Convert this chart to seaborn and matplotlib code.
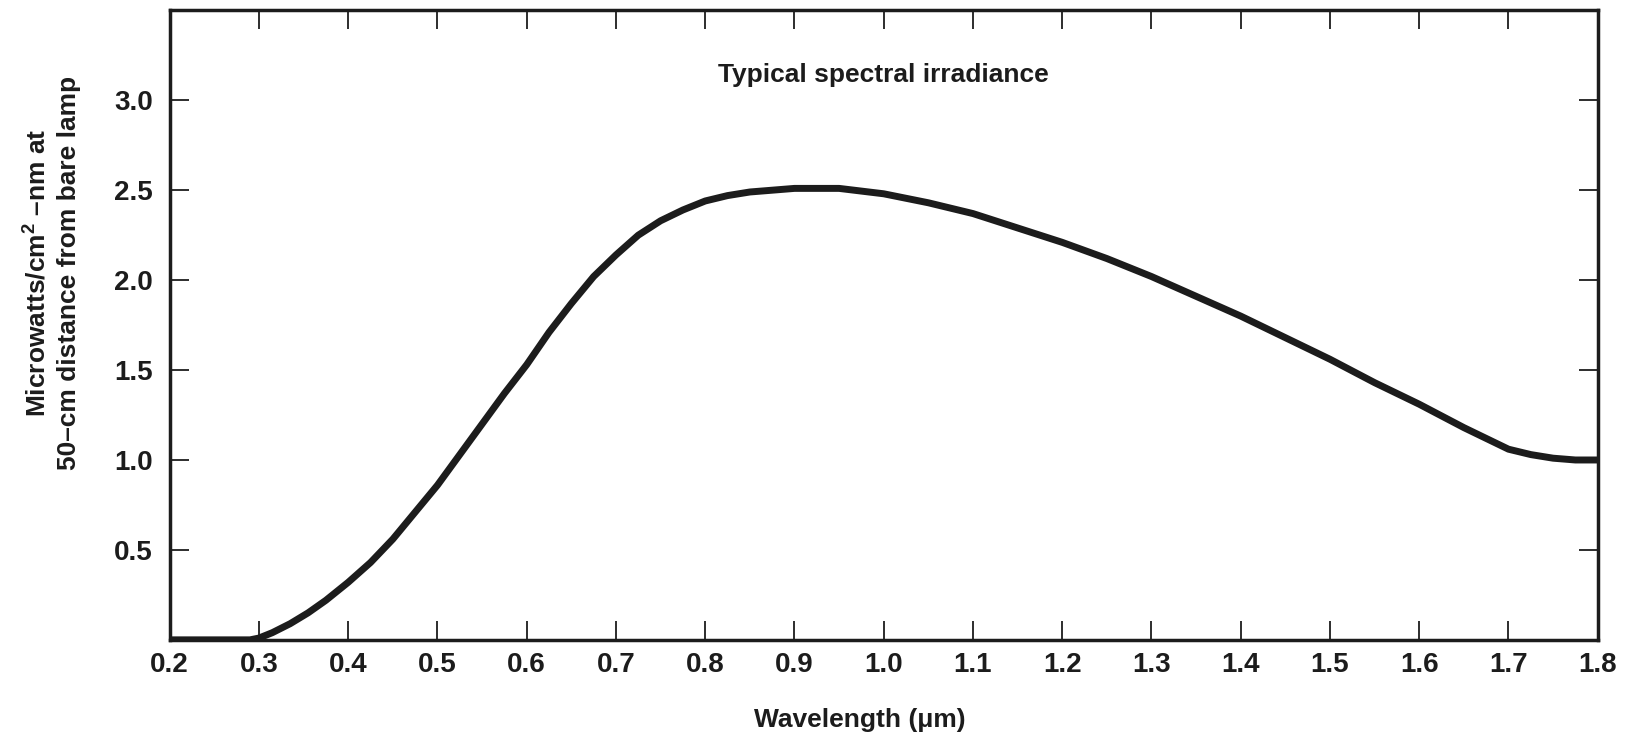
import numpy as np
import pandas as pd
import matplotlib
matplotlib.use("Agg")
import matplotlib.pyplot as plt
import seaborn as sns

# Values
WAVELENGTH_UM = [0.200, 0.250, 0.290, 0.300, 0.315, 0.335, 0.355, 0.375,
                 0.400, 0.425, 0.450, 0.475, 0.500, 0.525, 0.550, 0.575,
                 0.600, 0.625, 0.650, 0.675, 0.700, 0.725, 0.750, 0.775,
                 0.800, 0.825, 0.850, 0.900, 0.950, 1.000, 1.050, 1.100,
                 1.150, 1.200, 1.250, 1.300, 1.350, 1.400, 1.450, 1.500,
                 1.550, 1.600, 1.650, 1.675, 1.700, 1.725, 1.750, 1.775,
                 1.800]
IRRADIANCE = [0.00, 0.00, 0.00, 0.01, 0.04, 0.09, 0.15, 0.22,
              0.32, 0.43, 0.56, 0.71, 0.86, 1.03, 1.20, 1.37,
              1.53, 1.71, 1.87, 2.02, 2.14, 2.25, 2.33, 2.39,
              2.44, 2.47, 2.49, 2.51, 2.51, 2.48, 2.43, 2.37,
              2.29, 2.21, 2.12, 2.02, 1.91, 1.80, 1.68, 1.56,
              1.43, 1.31, 1.18, 1.12, 1.06, 1.03, 1.01, 1.00,
              1.00]
X_TICKS = [0.2, 0.3, 0.4, 0.5, 0.6, 0.7, 0.8, 0.9, 1.0, 1.1, 1.2, 1.3, 1.4,
           1.5, 1.6, 1.7, 1.8]
Y_TICKS = [0.5, 1.0, 1.5, 2.0, 2.5, 3.0]

TITLE = "Typical spectral irradiance"
XLABEL = "Wavelength (\u03bcm)"
YLABEL = "Microwatts/cm$^2$ \u2013nm at\n50\u2013cm distance from bare lamp"

sns.set_theme(style="ticks")
plt.rcParams['font.family'] = ['Liberation Sans', 'DejaVu Sans']
plt.rcParams['font.weight'] = 'bold'
plt.rcParams['axes.labelweight'] = 'bold'
plt.rcParams['mathtext.fontset'] = 'custom'
plt.rcParams['mathtext.rm'] = 'Liberation Sans:bold'
plt.rcParams['mathtext.it'] = 'Liberation Sans:italic:bold'

INK = '#1c1c1c'

df = pd.DataFrame({'wavelength': WAVELENGTH_UM, 'irradiance': IRRADIANCE})

fig = plt.figure(figsize=(16.32, 7.38), dpi=100)
ax = fig.add_axes([0.104, 0.133, 0.875, 0.853])

sns.lineplot(data=df, x='wavelength', y='irradiance', ax=ax,
             color=INK, linewidth=5, solid_joinstyle='round')

ax.set_xlim(0.2, 1.8)
ax.set_ylim(0, 3.5)
ax.set_xticks(X_TICKS)
ax.set_xticklabels([f"{t:.1f}" for t in X_TICKS])
ax.set_yticks(Y_TICKS)
ax.set_yticklabels([f"{t:.1f}" for t in Y_TICKS])

ax.tick_params(direction='in', top=True, right=True, length=14, width=1.3,
               colors=INK, labelsize=20, pad=9)
ax.tick_params(axis='y', pad=12)
for sp in ax.spines.values():
    sp.set_linewidth(2.5)
    sp.set_color(INK)
    sp.set_visible(True)

ax.set_xlabel(XLABEL, fontsize=19, color=INK)
ax.set_ylabel(YLABEL, fontsize=19, color=INK, linespacing=1.3)
ax.xaxis.set_label_coords(0.483, -0.108)
ax.yaxis.set_label_coords(-0.062, 0.583)

ax.text(1.0, 3.14, TITLE, ha='center', va='center', fontsize=19, color=INK)

fig.savefig('out.png', dpi=100, facecolor='white')
